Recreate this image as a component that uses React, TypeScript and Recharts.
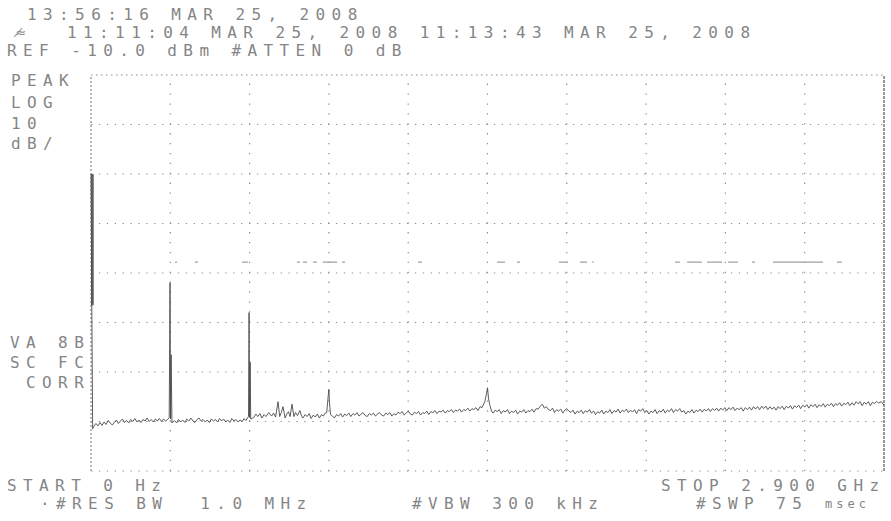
import { LineChart, Line, XAxis, YAxis, ReferenceLine, ReferenceArea } from "recharts";

// frequency in MHz, level in dBm
const FREQ_TICKS = [0, 290, 580, 870, 1160, 1450, 1740, 2030, 2320, 2610, 2900];
const LEVEL_TICKS = [-90, -80, -70, -60, -50, -40, -30, -20, -10];

// LO feedthrough smear at 0 Hz
const LO_SMEAR = { f1: 0, f2: 10, top: -30, bottom: -56.5 };

const TRACE: [number, number][] = [
  [0, -30], [3, -57], [6, -81.5], [10, -81], [18, -80.4], [25, -80.9], [33, -80.2], [40, -80.8],
  [48, -80.1], [55, -80.6], [63, -79.8], [70, -80.3], [78, -80.7], [85, -80.2], [93, -79.7],
  [100, -80.4], [108, -79.9], [115, -79.5], [123, -80.2], [130, -79.8], [138, -80.3], [145, -79.6],
  [153, -80.0], [160, -79.4], [168, -80.1], [175, -79.7], [183, -80.2], [190, -79.6], [198, -79.9],
  [205, -79.3], [213, -80.0], [220, -79.6], [228, -80.1], [235, -79.5], [243, -79.9], [250, -79.4],
  [258, -80.0], [265, -79.5], [273, -79.9], [280, -79.6],
  [286, -79.2], [289, -52], [291, -79.5], [293, -66.5], [296, -80.3],
  [305, -79.8], [313, -80.3], [320, -79.6], [328, -80.1], [335, -79.7], [343, -80.2], [350, -79.5],
  [358, -79.9], [365, -79.3], [373, -79.9], [380, -80.2], [388, -79.6], [395, -79.3], [403, -79.9],
  [410, -79.6], [418, -80.1], [425, -79.7], [433, -80.2], [440, -79.5], [448, -79.9], [455, -79.6],
  [463, -80.1], [470, -79.4], [478, -79.9], [485, -79.5], [493, -80.1], [500, -79.7], [508, -80.2],
  [515, -79.4], [523, -79.9], [530, -79.6], [538, -80.1], [545, -79.7], [553, -80.0], [560, -79.4],
  [566, -79.8], [572, -79.3],
  [576, -79.0], [578, -58], [580, -79.2], [582, -68], [584, -79.5],
  [595, -79.2], [603, -78.5], [610, -79.0], [618, -78.4], [625, -79.3], [633, -78.6], [640, -79.0],
  [650, -78.2], [660, -78.9], [668, -78.3], [675, -79.1], [684, -76.0], [690, -79.0], [696, -78.2],
  [702, -77.0], [710, -79.3], [716, -78.5], [722, -78.0], [728, -79.0], [735, -76.5], [742, -79.0],
  [748, -78.2], [755, -78.8], [764, -77.8], [770, -78.9], [775, -79.3], [783, -78.6], [790, -79.0],
  [798, -78.4], [805, -79.4], [813, -78.7], [820, -79.1], [828, -78.5], [835, -79.3], [843, -78.6],
  [850, -78.9], [856, -78.3], [862, -78.2], [868, -74.5], [870, -73.5], [872, -76], [876, -78.6],
  [883, -78.9], [890, -79.3], [898, -78.6], [905, -78.9], [913, -78.4], [920, -79.1], [928, -78.5],
  [935, -78.8], [943, -78.3], [950, -79.0], [958, -78.4], [965, -78.7], [973, -78.2], [980, -78.9],
  [988, -78.5], [995, -78.2], [1003, -78.8], [1010, -79.0], [1018, -78.4], [1025, -78.7],
  [1033, -78.3], [1040, -78.9], [1048, -78.5], [1055, -78.2], [1063, -78.7], [1070, -78.9],
  [1078, -78.3], [1085, -78.6], [1093, -78.2], [1100, -78.9], [1108, -78.4], [1115, -78.7],
  [1123, -78.1], [1130, -78.4], [1138, -78.0], [1145, -78.7], [1153, -78.3], [1160, -77.9],
  [1168, -78.5], [1175, -78.7], [1183, -78.1], [1190, -78.4], [1198, -78.0], [1205, -78.7],
  [1213, -78.2], [1220, -78.4], [1228, -77.9], [1235, -78.6], [1243, -78.0], [1250, -78.2],
  [1258, -77.8], [1265, -78.4], [1273, -77.9], [1280, -78.1], [1288, -77.7], [1295, -78.3],
  [1303, -77.8], [1310, -78.0], [1318, -77.6], [1325, -78.2], [1333, -77.7], [1340, -77.9],
  [1348, -77.5], [1355, -78.1], [1363, -77.6], [1370, -77.8], [1378, -77.3], [1385, -77.9],
  [1393, -77.4], [1400, -77.6], [1408, -77.2], [1415, -77.8], [1423, -77.0], [1430, -77.2],
  [1440, -76.0], [1446, -74.5], [1450, -73.2], [1454, -75.5], [1460, -77.0], [1465, -77.9],
  [1470, -78.3], [1478, -77.7], [1485, -78.0], [1493, -77.6], [1500, -78.4], [1508, -77.8],
  [1515, -78.1], [1523, -77.6], [1530, -78.4], [1538, -77.9], [1545, -78.2], [1553, -77.7],
  [1560, -78.5], [1568, -77.9], [1575, -78.1], [1583, -77.6], [1590, -78.3], [1598, -77.8],
  [1605, -78.0], [1613, -77.5], [1620, -78.1], [1628, -77.4], [1635, -77.5], [1643, -76.9],
  [1650, -76.5], [1658, -77.3], [1665, -77.0], [1673, -77.6], [1680, -77.8], [1688, -77.3],
  [1695, -78.2], [1703, -77.6], [1710, -77.9], [1718, -77.5], [1725, -78.3], [1733, -77.7],
  [1740, -77.4], [1748, -77.9], [1755, -78.2], [1763, -77.7], [1770, -78.5], [1778, -77.9],
  [1785, -78.2], [1793, -77.7], [1800, -78.4], [1808, -77.8], [1815, -78.1], [1823, -77.6],
  [1830, -78.3], [1838, -77.9], [1845, -78.6], [1853, -78.0], [1860, -78.3], [1868, -77.7],
  [1875, -78.5], [1883, -77.9], [1890, -78.2], [1898, -77.6], [1905, -78.4], [1913, -77.8],
  [1920, -78.1], [1928, -77.5], [1935, -78.3], [1943, -77.7], [1950, -78.0], [1958, -77.5],
  [1965, -78.2], [1973, -77.7], [1980, -78.1], [1988, -77.6], [1995, -78.4], [2003, -77.6],
  [2010, -77.9], [2018, -77.4], [2025, -78.2], [2033, -77.8], [2040, -78.5], [2048, -77.9],
  [2055, -78.2], [2063, -77.6], [2070, -78.4], [2078, -77.8], [2085, -78.1], [2093, -77.5],
  [2100, -78.3], [2108, -77.7], [2115, -78.0], [2123, -77.4], [2130, -78.2], [2138, -77.6],
  [2145, -77.9], [2153, -77.4], [2160, -78.1], [2168, -77.8], [2175, -78.5], [2183, -77.9],
  [2190, -78.2], [2198, -77.6], [2205, -78.3], [2213, -77.7], [2220, -78.0], [2228, -77.5],
  [2235, -78.1], [2243, -77.5], [2250, -77.9], [2258, -77.4], [2265, -78.0], [2273, -77.4],
  [2280, -77.8], [2288, -77.3], [2295, -77.9], [2303, -77.3], [2310, -77.7], [2318, -77.2],
  [2325, -77.8], [2333, -77.2], [2340, -77.6], [2348, -77.1], [2355, -77.8], [2363, -77.3],
  [2370, -77.6], [2378, -77.2], [2385, -77.9], [2393, -77.2], [2400, -77.6], [2408, -77.1],
  [2415, -77.7], [2423, -77.0], [2430, -77.5], [2438, -77.0], [2445, -77.6], [2453, -76.9],
  [2460, -77.4], [2468, -76.9], [2475, -77.6], [2483, -77.0], [2490, -77.5], [2498, -77.1],
  [2505, -77.7], [2513, -77.0], [2520, -77.4], [2528, -76.9], [2535, -77.6], [2543, -76.9],
  [2550, -77.3], [2558, -76.8], [2565, -77.5], [2573, -76.8], [2580, -77.2], [2588, -76.7],
  [2595, -77.4], [2603, -76.7], [2610, -77.1], [2618, -76.6], [2625, -77.3], [2633, -76.6],
  [2640, -77.0], [2648, -76.5], [2655, -77.2], [2663, -76.6], [2670, -77.0], [2678, -76.4],
  [2685, -77.1], [2693, -76.5], [2700, -76.8], [2708, -76.3], [2715, -77.0], [2723, -76.4],
  [2730, -76.7], [2738, -76.2], [2745, -76.9], [2753, -76.3], [2760, -76.6], [2768, -76.1],
  [2775, -76.8], [2783, -76.2], [2790, -76.7], [2798, -76.0], [2805, -76.4], [2813, -76.0],
  [2820, -76.8], [2828, -76.1], [2835, -76.5], [2843, -76.0], [2850, -76.8], [2858, -76.1],
  [2865, -76.4], [2873, -75.9], [2880, -76.3], [2890, -76.0], [2900, -76.7],
];

// faint stored-trace dashes
const GHOST_LEVEL = -47.8;
const GHOST_SEGMENTS: [number, number][] = [
  [307, 315], [380, 391], [552, 574], [753, 764], [775, 790], [812, 826], [848, 900], [918, 929],
  [1196, 1210], [1485, 1514], [1558, 1569], [1711, 1744], [1788, 1814], [1832, 1838],
  [2136, 2154], [2180, 2234], [2253, 2308], [2330, 2366], [2417, 2428], [2494, 2677], [2728, 2746],
];

const traceData = TRACE.map(([f, v]) => ({ f, v }));
const ghostData: { f: number; v: number | null }[] = [];
GHOST_SEGMENTS.forEach(([a, b]) => {
  ghostData.push({ f: a, v: GHOST_LEVEL }, { f: b, v: GHOST_LEVEL }, { f: b + 1, v: null });
});

const TEXTS: { t: string; x: number; cy: number; small?: boolean }[] = [
  { t: "13:56:16 MAR 25, 2008", x: 27, cy: 15 },
  { t: "11:11:04 MAR 25, 2008 11:13:43 MAR 25, 2008", x: 67, cy: 33 },
  { t: "REF -10.0 dBm #ATTEN 0 dB", x: 7, cy: 51 },
  { t: "PEAK", x: 11, cy: 81 },
  { t: "LOG", x: 11, cy: 103 },
  { t: "10", x: 11, cy: 124 },
  { t: "dB/", x: 11, cy: 144 },
  { t: "VA 8B", x: 10, cy: 343 },
  { t: "SC FC", x: 10, cy: 363 },
  { t: " CORR", x: 10, cy: 383 },
  { t: "START 0 Hz", x: 7, cy: 486 },
  { t: "STOP 2.900 GHz", x: 661, cy: 486 },
  { t: "·#RES BW  1.0 MHz", x: 40, cy: 504 },
  { t: "#VBW 300 kHz", x: 412, cy: 504 },
  { t: "#SWP 75", x: 696, cy: 504 },
  { t: "msec", x: 825, cy: 505, small: true },
];

const GRID = "#8c8c8c";

export default function App() {
  return (
    <div style={{ position: "absolute", left: 0, top: 0, width: 891, height: 521, background: "#fff", overflow: "hidden" }}>
      <LineChart width={891} height={521} margin={{ top: 75, right: 7, bottom: 50, left: 91 }}>
        <XAxis type="number" dataKey="f" domain={[0, 2900]} ticks={FREQ_TICKS} allowDuplicatedCategory={false} hide />
        <YAxis type="number" domain={[-90, -10]} ticks={LEVEL_TICKS} hide />
        {FREQ_TICKS.map((f, i) => (
          <ReferenceLine
            key={`v${f}`}
            x={f}
            stroke={i === FREQ_TICKS.length - 1 ? "#555" : GRID}
            strokeWidth={1.2}
            strokeDasharray={i === 0 ? "2 2" : i === FREQ_TICKS.length - 1 ? "3 1" : "1.3 8.6"}
          />
        ))}
        {LEVEL_TICKS.map((l, i) => (
          <ReferenceLine
            key={`h${l}`}
            y={l}
            stroke={GRID}
            strokeWidth={1.2}
            strokeDasharray={i === LEVEL_TICKS.length - 1 ? "1.5 3.5" : "1.3 6.6"}
          />
        ))}
        <ReferenceArea x1={LO_SMEAR.f1} x2={LO_SMEAR.f2} y1={LO_SMEAR.bottom} y2={LO_SMEAR.top} fill="#3a3a3a" fillOpacity={0.8} stroke="none" />
        <Line data={ghostData} dataKey="v" stroke="#a0a0a0" strokeWidth={1.3} dot={false} connectNulls={false} isAnimationActive={false} />
        <Line data={traceData} dataKey="v" stroke="#4a4a4a" strokeWidth={0.9} dot={false} isAnimationActive={false} />
      </LineChart>
      {TEXTS.map((s) => (
        <div
          key={s.t + s.cy}
          style={{
            position: "absolute",
            left: s.x,
            top: s.cy - 8,
            fontFamily: "'DejaVu Sans Mono', monospace",
            fontSize: s.small ? 12 : 16,
            letterSpacing: s.small ? 4 : 6.4,
            lineHeight: "15px",
            color: "#858585",
            whiteSpace: "pre",
          }}
        >
          {s.t}
        </div>
      ))}
      <div
        style={{
          position: "absolute",
          left: 17,
          top: 25,
          fontFamily: "'DejaVu Sans', sans-serif",
          fontSize: 13,
          letterSpacing: -4,
          color: "#8a8a8a",
          fontStyle: "italic",
          whiteSpace: "pre",
        }}
      >
        ⁄≈
      </div>
    </div>
  );
}
